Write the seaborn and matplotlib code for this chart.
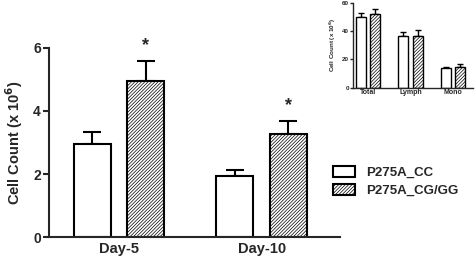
import numpy as np
import pandas as pd
import matplotlib
matplotlib.use("Agg")
import matplotlib.pyplot as plt
import seaborn as sns

# dados principais
dias = ["Day-5", "Day-10"]
grupos = ["P275A_CC", "P275A_CG/GG"]
cc_media = [2.95, 1.93]
cc_erro = [0.37, 0.21]
cg_media = [4.95, 3.27]
cg_erro = [0.64, 0.41]
signif = [True, True]

# dados do inset
tipos = ["Total", "Lymph", "Mono"]
cc_media_in = [49.7, 36.2, 13.7]
cc_erro_in = [2.8, 3.1, 0.7]
cg_media_in = [51.8, 36.2, 14.8]
cg_erro_in = [3.7, 4.3, 1.7]

sns.set_style("ticks")
plt.rcParams["font.family"] = ["Liberation Sans", "DejaVu Sans"]
plt.rcParams["font.weight"] = "bold"
plt.rcParams["axes.labelweight"] = "bold"
plt.rcParams["hatch.linewidth"] = 0.5
plt.rcParams["hatch.color"] = "black"

df = pd.DataFrame({
    "Dia": dias * 2,
    "Grupo": [grupos[0]] * 2 + [grupos[1]] * 2,
    "Valor": cc_media + cg_media,
})
df_in = pd.DataFrame({
    "Tipo": tipos * 2,
    "Grupo": [grupos[0]] * 3 + [grupos[1]] * 3,
    "Valor": cc_media_in + cg_media_in,
})

fig = plt.figure(figsize=(4.77, 2.58), dpi=100)
ax = fig.add_axes([0.103, 0.080, 0.610, 0.735])
ax_in = fig.add_axes([0.740, 0.660, 0.252, 0.330])


def barras(eixo, dados, cat, erros, width, gap, lw, cap, elw):
    sns.barplot(data=dados, x=cat, y="Valor", hue="Grupo", ax=eixo,
                palette=["white", "white"], width=width, gap=gap,
                edgecolor="black", linewidth=lw, errorbar=None, legend=False)
    conts = list(eixo.containers)
    for cont, err in zip(conts, erros):
        xs = [b.get_x() + b.get_width() / 2 for b in cont]
        ys = [b.get_height() for b in cont]
        eixo.errorbar(xs, ys, yerr=[np.zeros(len(err)), err], fmt="none",
                      ecolor="black", elinewidth=elw, capsize=cap,
                      capthick=elw, zorder=1)
    for b in conts[1]:
        b.set_hatch("//////////")
    for cont in conts:
        for b in cont:
            b.set_zorder(2)
    sns.despine(ax=eixo)
    eixo.spines["left"].set_linewidth(lw)
    eixo.spines["bottom"].set_linewidth(lw)
    eixo.tick_params(axis="x", length=0)
    return conts


# grafico principal
conts = barras(ax, df, "Dia", [cc_erro, cg_erro], 0.75, 0.31, 1.5, 6.5, 1.5)
ax.set_ylim(0, 6)
ax.set_yticks([0, 2, 4, 6])
ax.set_xlim(-0.49, 1.55)
ax.tick_params(axis="y", width=1.5, length=4, labelsize=10, pad=2)
ax.tick_params(axis="x", labelsize=10.5, pad=3)
ax.set_xlabel("")
ax.set_ylabel("Cell Count (x 10$^{\\mathbf{6}}$)", fontsize=10.5, labelpad=6)
for b, m, e, s in zip(conts[1], cg_media, cg_erro, signif):
    if s:
        ax.text(b.get_x() + b.get_width() / 2, m + e + 0.48, "*",
                ha="center", va="center", fontsize=13, clip_on=False)

# inset
barras(ax_in, df_in, "Tipo", [cc_erro_in, cg_erro_in], 0.68, 0.3, 1.0, 2.5, 1.0)
ax_in.set_ylim(0, 60)
ax_in.set_yticks([0, 20, 40, 60])
ax_in.set_xlim(-0.36, 2.48)
ax_in.tick_params(axis="y", width=1.0, length=2, labelsize=4.5, pad=1)
ax_in.tick_params(axis="x", labelsize=5, pad=1)
ax_in.set_xlabel("")
ax_in.set_ylabel("Cell Count (x 10$^{\\mathbf{6}}$)", fontsize=4.5, labelpad=3)

# legenda
fig.legend(conts, grupos, loc="upper left",
           bbox_to_anchor=(0.687, 0.378), borderaxespad=0, frameon=False,
           fontsize=9.5, handlelength=1.7, handleheight=0.9,
           labelspacing=0.4, handletextpad=0.85)

fig.savefig("out.png", dpi=100)
